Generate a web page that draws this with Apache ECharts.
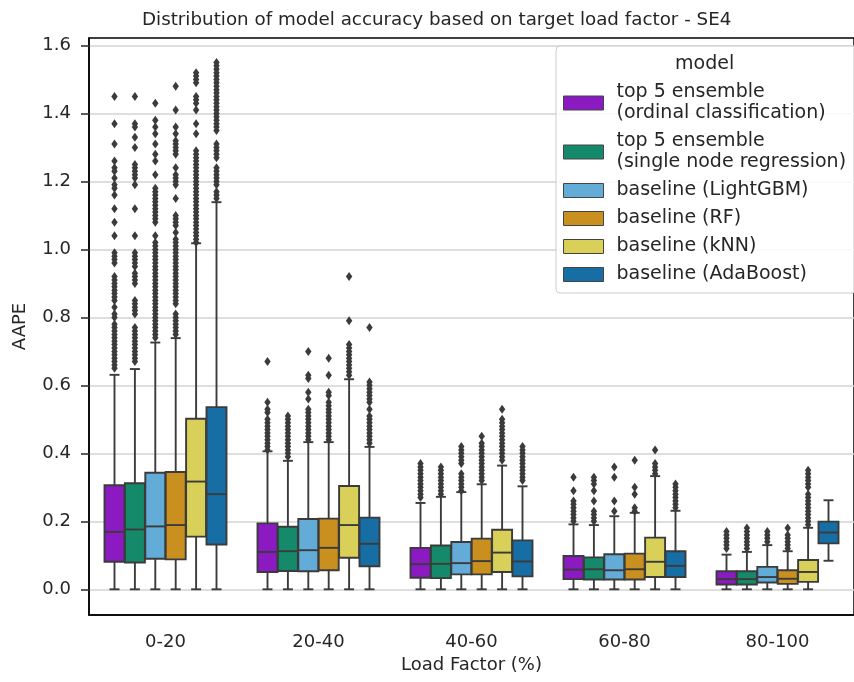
<!DOCTYPE html>
<html>
<head>
<meta charset="utf-8">
<title>Distribution of model accuracy based on target load factor - SE4</title>
<script src="https://cdn.jsdelivr.net/npm/echarts@6/dist/echarts.min.js"></script>
<style>
  html, body { margin: 0; padding: 0; background: #fff; }
  #chart { width: 854px; height: 682px; }
</style>
</head>
<body>
<div id="chart"></div>
<script>
// categories and tick labels
var loadFactors = ['0-20', '20-40', '40-60', '60-80', '80-100'];
var yTicks = [0, 0.2, 0.4, 0.6, 0.8, 1.0, 1.2, 1.4, 1.6];

var models = [
  'top 5 ensemble\n(ordinal classification)',
  'top 5 ensemble\n(single node regression)',
  'baseline (LightGBM)',
  'baseline (RF)',
  'baseline (kNN)',
  'baseline (AdaBoost)'
];
var colors = ['#8b1ac2', '#158a6a', '#63acd8', '#c9901f', '#d8d058', '#176ea4'];

// box stats per load factor: [lower whisker, Q1, median, Q3, upper whisker]
var ordinalBoxes = [
  [0, 0.081, 0.169, 0.306, 0.631],
  [0, 0.051, 0.110, 0.194, 0.406],
  [0, 0.034, 0.074, 0.122, 0.254],
  [0, 0.030, 0.058, 0.098, 0.191],
  [0, 0.014, 0.030, 0.053, 0.102]
];
var regressionBoxes = [
  [0, 0.079, 0.176, 0.312, 0.648],
  [0, 0.054, 0.112, 0.184, 0.378],
  [0, 0.033, 0.075, 0.129, 0.272],
  [0, 0.029, 0.059, 0.094, 0.189],
  [0, 0.014, 0.030, 0.053, 0.110]
];
var lgbmBoxes = [
  [0, 0.090, 0.185, 0.343, 0.726],
  [0, 0.053, 0.115, 0.207, 0.433],
  [0, 0.044, 0.077, 0.139, 0.286],
  [0, 0.029, 0.056, 0.103, 0.215],
  [0, 0.020, 0.036, 0.066, 0.130]
];
var rfBoxes = [
  [0, 0.088, 0.189, 0.345, 0.739],
  [0, 0.056, 0.122, 0.208, 0.433],
  [0, 0.044, 0.083, 0.149, 0.309],
  [0, 0.029, 0.059, 0.105, 0.225],
  [0, 0.016, 0.031, 0.056, 0.112]
];
var knnBoxes = [
  [0, 0.155, 0.317, 0.502, 1.018],
  [0, 0.093, 0.189, 0.304, 0.618],
  [0, 0.051, 0.108, 0.175, 0.364],
  [0, 0.036, 0.081, 0.152, 0.333],
  [0, 0.022, 0.051, 0.086, 0.181]
];
var adaBoxes = [
  [0, 0.132, 0.280, 0.536, 1.139],
  [0, 0.068, 0.134, 0.211, 0.419],
  [0, 0.038, 0.082, 0.144, 0.303],
  [0, 0.036, 0.069, 0.112, 0.231],
  [0.084, 0.135, 0.167, 0.199, 0.262]
];

// outliers per load factor
var ordinalOutliers = [
  [0.65, 0.66, 0.67, 0.68, 0.69, 0.70, 0.71, 0.72, 0.73, 0.74, 0.75, 0.76, 0.77, 0.78, 0.80, 0.81, 0.83,
   0.85, 0.86, 0.87, 0.88, 0.89, 0.90, 0.91, 0.92, 0.96, 0.97, 0.98, 0.99, 1.04, 1.08, 1.12, 1.16, 1.18,
   1.19, 1.21, 1.23, 1.24, 1.26, 1.31, 1.37, 1.45],
  [0.41, 0.42, 0.43, 0.44, 0.45, 0.46, 0.47, 0.48, 0.49, 0.50, 0.52, 0.53, 0.55, 0.67],
  [0.27, 0.28, 0.29, 0.30, 0.31, 0.32, 0.33, 0.34, 0.35, 0.36, 0.37],
  [0.20, 0.21, 0.22, 0.23, 0.24, 0.25, 0.26, 0.29, 0.33],
  [0.12, 0.13, 0.14, 0.15, 0.16, 0.17]
];
var regressionOutliers = [
  [0.67, 0.68, 0.69, 0.70, 0.71, 0.72, 0.73, 0.74, 0.75, 0.76, 0.77, 0.81, 0.82, 0.83, 0.84, 0.85, 0.90,
   0.91, 0.92, 0.93, 0.95, 0.96, 0.97, 0.98, 0.99, 1.04, 1.12, 1.19, 1.21, 1.22, 1.23, 1.24, 1.25, 1.30,
   1.33, 1.36, 1.37, 1.45],
  [0.39, 0.40, 0.41, 0.42, 0.43, 0.44, 0.45, 0.46, 0.47, 0.48, 0.49, 0.50, 0.51],
  [0.28, 0.29, 0.30, 0.31, 0.32, 0.33, 0.34, 0.35, 0.36],
  [0.20, 0.21, 0.22, 0.23, 0.26, 0.29, 0.31, 0.32, 0.33],
  [0.12, 0.13, 0.14, 0.15, 0.16, 0.17, 0.18]
];
var lgbmOutliers = [
  [0.74, 0.75, 0.76, 0.77, 0.78, 0.79, 0.80, 0.81, 0.82, 0.83, 0.84, 0.85, 0.86, 0.87, 0.88, 0.89, 0.90,
   0.91, 0.92, 0.93, 0.94, 0.95, 0.96, 0.97, 0.98, 0.99, 1.00, 1.01, 1.02, 1.04, 1.08, 1.09, 1.10, 1.11,
   1.12, 1.13, 1.14, 1.15, 1.16, 1.17, 1.18, 1.22, 1.26, 1.28, 1.31, 1.34, 1.36, 1.38, 1.43],
  [0.44, 0.45, 0.46, 0.47, 0.48, 0.49, 0.50, 0.51, 0.52, 0.53, 0.56, 0.58, 0.62, 0.63, 0.70],
  [0.29, 0.30, 0.31, 0.32, 0.33, 0.34, 0.37, 0.38, 0.39, 0.40, 0.41, 0.42],
  [0.23, 0.26, 0.33, 0.36],
  [0.14, 0.15, 0.16, 0.17]
];
var rfOutliers = [
  [0.75, 0.76, 0.77, 0.78, 0.79, 0.80, 0.81, 0.84, 0.85, 0.86, 0.87, 0.88, 0.89, 0.90, 0.91, 0.92, 0.93,
   0.94, 0.95, 0.96, 0.97, 0.98, 0.99, 1.00, 1.01, 1.02, 1.03, 1.05, 1.07, 1.08, 1.09, 1.10, 1.15, 1.19,
   1.20, 1.21, 1.22, 1.24, 1.28, 1.29, 1.30, 1.31, 1.32, 1.34, 1.36, 1.41, 1.48],
  [0.44, 0.45, 0.46, 0.47, 0.48, 0.49, 0.50, 0.51, 0.52, 0.53, 0.54, 0.55, 0.57, 0.58, 0.63, 0.68],
  [0.32, 0.33, 0.34, 0.35, 0.36, 0.37, 0.38, 0.39, 0.40, 0.41, 0.42, 0.43, 0.45],
  [0.23, 0.24, 0.28, 0.30, 0.38],
  [0.12, 0.13, 0.14, 0.15, 0.16, 0.18]
];
var knnOutliers = [
  [1.02, 1.03, 1.04, 1.05, 1.06, 1.07, 1.08, 1.09, 1.10, 1.11, 1.12, 1.13, 1.14, 1.15, 1.16, 1.17, 1.18,
   1.19, 1.20, 1.21, 1.22, 1.23, 1.24, 1.25, 1.26, 1.27, 1.28, 1.29, 1.34, 1.37, 1.41, 1.43, 1.44, 1.45,
   1.49, 1.50, 1.51, 1.52],
  [0.63, 0.64, 0.65, 0.66, 0.67, 0.68, 0.69, 0.70, 0.71, 0.72, 0.79, 0.92],
  [0.38, 0.39, 0.40, 0.41, 0.42, 0.43, 0.44, 0.45, 0.46, 0.47, 0.48, 0.49, 0.50, 0.53],
  [0.34, 0.35, 0.36, 0.37, 0.41],
  [0.19, 0.20, 0.21, 0.22, 0.23, 0.24, 0.25, 0.26, 0.27, 0.28, 0.30, 0.31, 0.32, 0.33, 0.34, 0.35]
];
var adaOutliers = [
  [1.15, 1.16, 1.17, 1.19, 1.20, 1.21, 1.22, 1.23, 1.24, 1.27, 1.28, 1.29, 1.30, 1.31, 1.35, 1.36, 1.37,
   1.38, 1.39, 1.40, 1.41, 1.42, 1.43, 1.44, 1.45, 1.46, 1.47, 1.48, 1.49, 1.50, 1.51, 1.52, 1.53, 1.54, 1.55],
  [0.43, 0.44, 0.45, 0.46, 0.47, 0.48, 0.49, 0.50, 0.51, 0.53, 0.55, 0.56, 0.57, 0.58, 0.59, 0.60, 0.61, 0.77],
  [0.32, 0.33, 0.34, 0.35, 0.36, 0.37, 0.38, 0.39, 0.40, 0.41, 0.42],
  [0.24, 0.25, 0.26, 0.27, 0.28, 0.29, 0.30, 0.31],
  []
];

var allBoxes = [ordinalBoxes, regressionBoxes, lgbmBoxes, rfBoxes, knnBoxes, adaBoxes];
var allOutliers = [ordinalOutliers, regressionOutliers, lgbmOutliers, rfOutliers, knnOutliers, adaOutliers];

var edge = '#3b3b3b';
var font = 'DejaVu Sans';
var N = models.length;

// x position of model k inside a load-factor band
function boxCenter(api, idx, k) {
  var band = api.size([1, 0])[0];
  var slot = band * 0.8 / N;
  return { x: api.coord([idx, 0])[0] + (k - (N - 1) / 2) * slot, w: slot * 0.98 };
}

function boxRenderer(k) {
  return function (params, api) {
    var c = boxCenter(api, api.value(0), k);
    var lo = api.coord([0, api.value(1)])[1];
    var q1 = api.coord([0, api.value(2)])[1];
    var md = api.coord([0, api.value(3)])[1];
    var q3 = api.coord([0, api.value(4)])[1];
    var hi = api.coord([0, api.value(5)])[1];
    var x0 = c.x - c.w / 2, x1 = c.x + c.w / 2;
    var cap = c.w / 4;
    var st = { stroke: edge, lineWidth: 1.9 };
    return {
      type: 'group',
      children: [
        { type: 'line', shape: { x1: c.x, y1: lo, x2: c.x, y2: q1 }, style: st },
        { type: 'line', shape: { x1: c.x, y1: q3, x2: c.x, y2: hi }, style: st },
        { type: 'line', shape: { x1: c.x - cap, y1: lo, x2: c.x + cap, y2: lo }, style: st },
        { type: 'line', shape: { x1: c.x - cap, y1: hi, x2: c.x + cap, y2: hi }, style: st },
        { type: 'rect', shape: { x: x0, y: q3, width: c.w, height: q1 - q3 },
          style: { fill: colors[k], stroke: edge, lineWidth: 1.9 } },
        { type: 'line', shape: { x1: x0, y1: md, x2: x1, y2: md }, style: st }
      ]
    };
  };
}

function outlierRenderer(k) {
  return function (params, api) {
    var c = boxCenter(api, api.value(0), k);
    var y = api.coord([0, api.value(1)])[1];
    return {
      type: 'polygon',
      shape: { points: [[c.x, y - 4.5], [c.x + 3.2, y], [c.x, y + 4.5], [c.x - 3.2, y]] },
      style: { fill: edge }
    };
  };
}

var series = [];
models.forEach(function (name, k) {
  series.push({
    name: name,
    type: 'custom',
    renderItem: boxRenderer(k),
    itemStyle: { color: colors[k] },
    encode: { x: 0, y: [1, 2, 3, 4, 5] },
    data: allBoxes[k].map(function (s, i) { return [i].concat(s); }),
    z: 3
  });
  var pts = [];
  allOutliers[k].forEach(function (vals, i) {
    vals.forEach(function (v) { pts.push([i, v]); });
  });
  series.push({
    name: name,
    type: 'custom',
    renderItem: outlierRenderer(k),
    itemStyle: { color: colors[k] },
    encode: { x: 0, y: 1 },
    data: pts,
    z: 4
  });
});

var chart = echarts.init(document.getElementById('chart'));

var option = {
  animation: false,
  backgroundColor: '#fff',
  textStyle: { fontFamily: font },
  title: [
    {
      text: 'Distribution of model accuracy based on target load factor - SE4',
      left: 137,
      top: 6,
      textStyle: { fontFamily: font, fontSize: 18.3, fontWeight: 'normal', color: '#262626' }
    },
    {
      text: 'model',
      left: 670,
      top: 50,
      z: 10,
      textStyle: { fontFamily: font, fontSize: 19, fontWeight: 'normal', color: '#262626' }
    }
  ],
  legend: {
    orient: 'vertical',
    left: 556,
    top: 46,
    padding: [36, 10, 8, 7],
    itemGap: 7,
    itemWidth: 40,
    itemHeight: 14,
    icon: 'rect',
    backgroundColor: 'rgba(255,255,255,0.85)',
    borderColor: '#cccccc',
    borderWidth: 1,
    borderRadius: 4,
    data: models.map(function (m, k) {
      return { name: m, itemStyle: { color: colors[k], borderColor: '#444', borderWidth: 1 } };
    }),
    textStyle: { fontFamily: font, fontSize: 19, lineHeight: 21, color: '#262626', padding: [0, 0, 0, 8] }
  },
  grid: {
    left: 89,
    top: 38,
    width: 775,
    height: 577,
    show: true,
    borderColor: '#000',
    borderWidth: 1.5
  },
  xAxis: {
    type: 'category',
    data: loadFactors,
    name: 'Load Factor (%)',
    nameLocation: 'middle',
    nameGap: 40,
    nameTextStyle: { fontFamily: font, fontSize: 18, color: '#262626' },
    axisLine: { onZero: false, lineStyle: { color: '#000', width: 1.5 } },
    axisTick: { alignWithLabel: true, length: 8, lineStyle: { color: '#262626', width: 1.5 } },
    axisLabel: { fontFamily: font, fontSize: 18, color: '#262626', margin: 18 },
    splitLine: { show: false }
  },
  yAxis: {
    type: 'value',
    min: -0.0756,
    max: 1.622,
    splitNumber: 8,
    minInterval: 0.2,
    maxInterval: 0.2,
    name: 'AAPE',
    nameLocation: 'middle',
    nameGap: 60,
    nameTextStyle: { fontFamily: font, fontSize: 18, color: '#262626' },
    axisLine: { show: true, lineStyle: { color: '#000', width: 1.5 } },
    axisTick: { show: true, length: 8, customValues: yTicks, lineStyle: { color: '#262626', width: 1.5 } },
    axisLabel: {
      fontFamily: font, fontSize: 18, color: '#262626', margin: 18,
      customValues: yTicks,
      formatter: function (v) { return v.toFixed(1); }
    },
    splitLine: { show: true, lineStyle: { color: '#d3d3d3', width: 1.5 } }
  },
  series: series
};

chart.setOption(option);
</script>
</body>
</html>
